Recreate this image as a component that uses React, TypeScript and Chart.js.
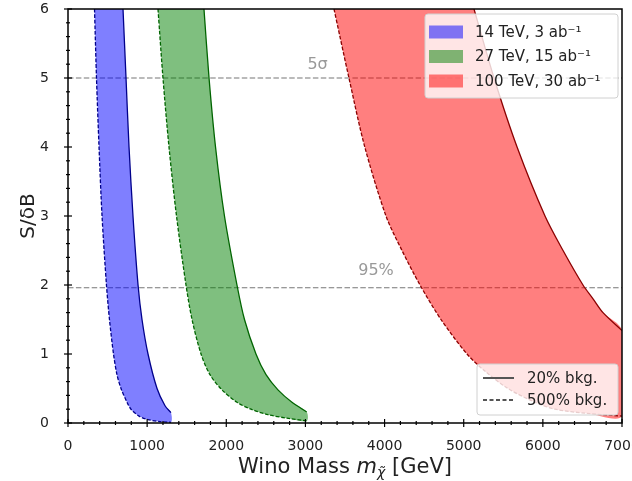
import React, { useEffect, useRef } from "react";
import { Chart, registerables } from "chart.js";

Chart.register(...registerables);

// ---- data ----
const xTickValues = [0, 1000, 2000, 3000, 4000, 5000, 6000, 7000];
const yTickValues = [0, 1, 2, 3, 4, 5, 6];

// 14 TeV, 3 ab^-1  (500% bkg. = dashed edge, 20% bkg. = solid edge)
const blue500X = [335, 360, 392, 430, 486, 524, 575, 619, 670, 746, 796, 897, 1011, 1163, 1301];
const blue500Y = [6, 5, 4, 3, 2, 1.5, 1, 0.7, 0.5, 0.3, 0.2, 0.1, 0.05, 0.02, 0.01];
const blue20X = [695, 733, 771, 821, 885, 935, 1011, 1125, 1226, 1301];
const blue20Y = [6, 5, 4, 3, 2, 1.5, 1, 0.5, 0.25, 0.15];

// 27 TeV, 15 ab^-1
const green500X = [1137, 1200, 1276, 1371, 1491, 1567, 1681, 1794, 1946, 2135, 2312, 2527, 2767, 3016];
const green500Y = [6, 5, 4, 3, 2, 1.5, 1, 0.7, 0.48, 0.3, 0.2, 0.12, 0.07, 0.03];
const green20X = [1718, 1782, 1864, 1977, 2135, 2230, 2375, 2502, 2653, 2830, 3016];
const green20Y = [6, 5, 4, 3, 2, 1.5, 1, 0.7, 0.48, 0.3, 0.16];

// 100 TeV, 30 ab^-1
const red500X = [3361, 3550, 3750, 4018, 4220, 4448, 4713, 5042, 5270, 5560, 5901, 6154, 6550, 7000];
const red500Y = [6, 5, 4, 3, 2.5, 2, 1.5, 1, 0.75, 0.5, 0.3, 0.2, 0.14, 0.1];
const red20X = [5130, 5383, 5674, 6027, 6255, 6507, 6634, 6760, 7000];
const red20Y = [6, 5, 4, 3, 2.5, 2, 1.8, 1.6, 1.34];

const refLevels = [5, 1.96];
const refLabels = ["5σ", "95%"];
const refLabelX = [3153, 3892];
const refLabelY = [5.19, 2.21];

const energyLabels = ["14 TeV, 3 ab⁻¹", "27 TeV, 15 ab⁻¹", "100 TeV, 30 ab⁻¹"];
const bkgLabels = ["20% bkg.", "500% bkg."];

const FILLS = ["rgba(0,0,255,0.5)", "rgba(0,128,0,0.5)", "rgba(255,0,0,0.5)"];
const EDGES = ["#00008b", "#006400", "#8b0000"];
const FONT = '"DejaVu Sans", sans-serif';

const pts = (xs: number[], ys: number[]) => xs.map((x, i) => ({ x, y: ys[i] }));
const band = (x1: number[], y1: number[], x2: number[], y2: number[]) => [
  ...pts(x1, y1),
  ...pts(x2, y2).reverse(),
];

const decor = {
  id: "decor",
  afterDatasetsDraw(chart: any) {
    const { ctx, chartArea: a, scales } = chart;
    const xs = scales.x;
    const ys = scales.y;
    ctx.save();
    // frame
    ctx.strokeStyle = "#000";
    ctx.lineWidth = 1.5;
    ctx.setLineDash([]);
    ctx.strokeRect(a.left, a.top, a.right - a.left, a.bottom - a.top);
    // ticks
    ctx.lineWidth = 1.2;
    for (let v = 0; v <= 7000; v += 200) {
      const px = xs.getPixelForValue(v);
      const len = v % 1000 === 0 ? 4 : 2;
      ctx.beginPath();
      ctx.moveTo(px, a.bottom - len);
      ctx.lineTo(px, a.bottom + len);
      ctx.stroke();
    }
    for (let i = 0; i <= 30; i++) {
      const v = i * 0.2;
      const py = ys.getPixelForValue(v);
      const len = i % 5 === 0 ? 4 : 2;
      ctx.beginPath();
      ctx.moveTo(a.left - len, py);
      ctx.lineTo(a.left + len, py);
      ctx.stroke();
    }
    // reference labels
    ctx.fillStyle = "#999";
    ctx.font = `16px ${FONT}`;
    ctx.textAlign = "center";
    ctx.textBaseline = "middle";
    refLabels.forEach((t, i) => {
      ctx.fillText(t, xs.getPixelForValue(refLabelX[i]), ys.getPixelForValue(refLabelY[i]));
    });

    // legend 1 (energies)
    ctx.font = `15px ${FONT}`;
    ctx.textAlign = "left";
    const w1 = 193;
    const h1 = 84;
    const l1x = a.right - 4 - w1;
    const l1y = a.top + 5;
    ctx.fillStyle = "rgba(255,255,255,0.8)";
    ctx.strokeStyle = "#d0d0d0";
    ctx.lineWidth = 1;
    ctx.beginPath();
    ctx.roundRect(l1x, l1y, w1, h1, 3);
    ctx.fill();
    ctx.stroke();
    energyLabels.forEach((t, i) => {
      const cy = l1y + 18 + i * 24.5;
      ctx.fillStyle = FILLS[i];
      ctx.fillRect(l1x + 4, cy - 6.5, 34, 13);
      ctx.fillStyle = "#222";
      ctx.fillText(t, l1x + 50, cy + 1);
    });

    // legend 2 (background)
    const w2 = 141;
    const h2 = 51;
    const l2x = a.right - 4 - w2;
    const l2y = a.bottom - 8 - h2;
    ctx.fillStyle = "rgba(255,255,255,0.8)";
    ctx.strokeStyle = "#d0d0d0";
    ctx.beginPath();
    ctx.roundRect(l2x, l2y, w2, h2, 3);
    ctx.fill();
    ctx.stroke();
    bkgLabels.forEach((t, i) => {
      const cy = l2y + 14 + i * 22;
      ctx.strokeStyle = "#555";
      ctx.lineWidth = 2;
      ctx.setLineDash(i === 0 ? [] : [4, 2.5]);
      ctx.beginPath();
      ctx.moveTo(l2x + 6, cy);
      ctx.lineTo(l2x + 37, cy);
      ctx.stroke();
      ctx.setLineDash([]);
      ctx.fillStyle = "#222";
      ctx.fillText(t, l2x + 50, cy + 1);
    });
    ctx.restore();
  },
  afterDraw(chart: any) {
    const { ctx, chartArea: a } = chart;
    ctx.save();
    ctx.fillStyle = "#222";
    // y title
    ctx.translate(29, (a.top + a.bottom) / 2);
    ctx.rotate(-Math.PI / 2);
    ctx.font = `20px ${FONT}`;
    ctx.textAlign = "center";
    ctx.textBaseline = "middle";
    ctx.fillText("S/δB", 0, 0);
    ctx.restore();

    ctx.save();
    ctx.fillStyle = "#222";
    ctx.textBaseline = "alphabetic";
    ctx.textAlign = "left";
    const parts = [
      { t: "Wino Mass ", f: `21px ${FONT}`, dy: 0 },
      { t: "m", f: `italic 21px ${FONT}`, dy: 0 },
      { t: "χ\u0303", f: `italic 14px ${FONT}`, dy: 4 },
      { t: " [GeV]", f: `21px ${FONT}`, dy: 0 },
    ];
    let total = 0;
    parts.forEach((p) => {
      ctx.font = p.f;
      total += ctx.measureText(p.t).width;
    });
    let cx = (a.left + a.right) / 2 - total / 2;
    const base = 473;
    parts.forEach((p) => {
      ctx.font = p.f;
      ctx.fillText(p.t, cx, base + p.dy);
      cx += ctx.measureText(p.t).width;
    });
    ctx.restore();
  },
};

export default function App() {
  const ref = useRef<HTMLCanvasElement | null>(null);
  useEffect(() => {
    if (!ref.current) return;
    const edge = (xs: number[], ys: number[], i: number, dashed: boolean) => ({
      data: pts(xs, ys),
      borderColor: EDGES[i],
      borderWidth: 1.3,
      borderDash: dashed ? [3.7, 1.8] : [],
      pointRadius: 0,
      tension: 0.3,
      fill: false,
      order: 1,
    });
    const fillDs = (data: any[], i: number) => ({
      data,
      borderColor: "rgba(0,0,0,0)",
      borderWidth: 0,
      backgroundColor: FILLS[i],
      pointRadius: 0,
      tension: 0.3,
      fill: "shape",
      order: 2,
    });
    const refDs = refLevels.map((lv) => ({
      data: [
        { x: 0, y: lv },
        { x: 7000, y: lv },
      ],
      borderColor: "#777",
      borderWidth: 1.2,
      borderDash: [5.5, 2.4],
      pointRadius: 0,
      fill: false,
      order: 3,
    }));
    const chart = new Chart(ref.current, {
      type: "line",
      data: {
        datasets: [
          ...refDs,
          fillDs(band(blue500X, blue500Y, blue20X, blue20Y), 0),
          fillDs(band(green500X, green500Y, green20X, green20Y), 1),
          fillDs(band(red500X, red500Y, red20X, red20Y), 2),
          edge(blue500X, blue500Y, 0, true),
          edge(blue20X, blue20Y, 0, false),
          edge(green500X, green500Y, 1, true),
          edge(green20X, green20Y, 1, false),
          edge(red500X, red500Y, 2, true),
          edge(red20X, red20Y, 2, false),
        ] as any,
      },
      options: {
        responsive: false,
        animation: false,
        layout: { padding: { top: 9, right: 10, left: 0, bottom: 0 } },
        plugins: { legend: { display: false }, tooltip: { enabled: false } },
        scales: {
          x: {
            type: "linear",
            min: 0,
            max: 7000,
            afterFit: (s: any) => {
              s.height = 58;
              s.paddingRight = 0;
              s.paddingLeft = 0;
            },
            afterBuildTicks: (s: any) => {
              s.ticks = xTickValues.map((v) => ({ value: v }));
            },
            ticks: {
              color: "#222",
              font: { family: FONT, size: 14 },
              padding: 7,
              maxRotation: 0,
              callback: (v: any) => String(v),
            },
            grid: { display: false },
            border: { display: false },
          },
          y: {
            type: "linear",
            min: 0,
            max: 6,
            afterFit: (s: any) => {
              s.width = 68;
              s.paddingTop = 0;
              s.paddingBottom = 0;
            },
            afterBuildTicks: (s: any) => {
              s.ticks = yTickValues.map((v) => ({ value: v }));
            },
            ticks: {
              color: "#222",
              font: { family: FONT, size: 14 },
              padding: 11,
              callback: (v: any) => String(v),
            },
            grid: { display: false },
            border: { display: false },
          },
        },
      },
      plugins: [decor],
    });
    return () => chart.destroy();
  }, []);
  return (
    <div style={{ position: "fixed", left: 0, top: 0, width: 632, height: 481, background: "#fff" }}>
      <canvas ref={ref} width={632} height={481} style={{ display: "block" }} />
    </div>
  );
}
